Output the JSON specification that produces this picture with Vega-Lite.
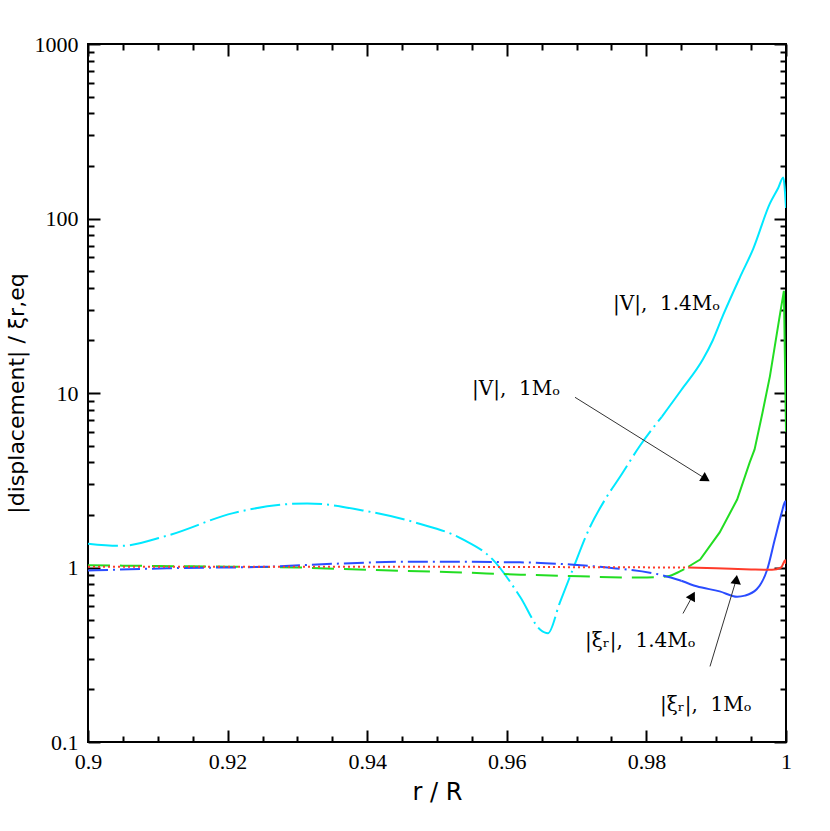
{
  "$schema": "https://vega.github.io/schema/vega-lite/v6.json",
  "autosize": {"type": "none"},
  "padding": {"left": 88, "top": 44, "right": 44, "bottom": 89},
  "width": 698,
  "height": 698,
  "datasets": {
    "curves": [
      {"s": "cyan_dd", "r": 0.9, "v": 1.37},
      {"s": "cyan_dd", "r": 0.9046, "v": 1.33},
      {"s": "cyan_dd", "r": 0.9113, "v": 1.52},
      {"s": "cyan_dd", "r": 0.9208, "v": 2.05},
      {"s": "cyan_dd", "r": 0.9314, "v": 2.33},
      {"s": "cyan_dd", "r": 0.94, "v": 2.1},
      {"s": "cyan_dd", "r": 0.9471, "v": 1.8},
      {"s": "cyan_dd", "r": 0.9537, "v": 1.45},
      {"s": "cyan_dd", "r": 0.9579, "v": 1.12},
      {"s": "cyan_dd", "r": 0.9619, "v": 0.68},
      {"s": "cyan_dd", "r": 0.9648, "v": 0.44},
      {"s": "cyan_dd", "r": 0.9659, "v": 0.42},
      {"s": "cyan_dd", "r": 0.9676, "v": 0.63},
      {"s": "cyan_dd", "r": 0.9693, "v": 0.94},
      {"s": "cyan_dd", "r": 0.9719, "v": 1.7},
      {"s": "cyan_dd", "r": 0.9741, "v": 2.46},
      {"s": "cyan_dd", "r": 0.9762, "v": 3.3},
      {"s": "cyan_dd", "r": 0.9791, "v": 5.0},
      {"s": "cyan_dd", "r": 0.9822, "v": 7.3},
      {"s": "cyan_s", "r": 0.9822, "v": 7.3},
      {"s": "cyan_s", "r": 0.985, "v": 10.4},
      {"s": "cyan_s", "r": 0.9881, "v": 15.6},
      {"s": "cyan_s", "r": 0.9895, "v": 20},
      {"s": "cyan_s", "r": 0.991, "v": 28},
      {"s": "cyan_s", "r": 0.9934, "v": 46},
      {"s": "cyan_s", "r": 0.9953, "v": 67},
      {"s": "cyan_s", "r": 0.9977, "v": 122},
      {"s": "cyan_s", "r": 0.9989, "v": 150},
      {"s": "cyan_s", "r": 0.9996, "v": 172},
      {"s": "cyan_s", "r": 1.0, "v": 115},
      {"s": "green_d", "r": 0.9, "v": 1.03},
      {"s": "green_d", "r": 0.91, "v": 1.02},
      {"s": "green_d", "r": 0.92, "v": 1.01},
      {"s": "green_d", "r": 0.93, "v": 1.0},
      {"s": "green_d", "r": 0.94, "v": 0.97},
      {"s": "green_d", "r": 0.9523, "v": 0.94},
      {"s": "green_d", "r": 0.962, "v": 0.91},
      {"s": "green_d", "r": 0.9705, "v": 0.89},
      {"s": "green_d", "r": 0.9791, "v": 0.875},
      {"s": "green_d", "r": 0.983, "v": 0.89},
      {"s": "green_d", "r": 0.9848, "v": 0.95},
      {"s": "green_d", "r": 0.986, "v": 1.01},
      {"s": "green_s", "r": 0.986, "v": 1.01},
      {"s": "green_s", "r": 0.9877, "v": 1.11},
      {"s": "green_s", "r": 0.9905, "v": 1.59},
      {"s": "green_s", "r": 0.993, "v": 2.45},
      {"s": "green_s", "r": 0.9948, "v": 4.0},
      {"s": "green_s", "r": 0.9955, "v": 4.75},
      {"s": "green_s", "r": 0.9966, "v": 7.6},
      {"s": "green_s", "r": 0.9977, "v": 12.5},
      {"s": "green_s", "r": 0.9991, "v": 27.7},
      {"s": "green_s", "r": 0.9997, "v": 38.5},
      {"s": "green_s", "r": 1.0, "v": 6},
      {"s": "blue_dd", "r": 0.9, "v": 0.96},
      {"s": "blue_dd", "r": 0.9113, "v": 0.99},
      {"s": "blue_dd", "r": 0.9256, "v": 1.01},
      {"s": "blue_dd", "r": 0.9351, "v": 1.05},
      {"s": "blue_dd", "r": 0.9471, "v": 1.08},
      {"s": "blue_dd", "r": 0.9619, "v": 1.07},
      {"s": "blue_dd", "r": 0.9691, "v": 1.04},
      {"s": "blue_dd", "r": 0.9744, "v": 1.0},
      {"s": "blue_dd", "r": 0.9824, "v": 0.9},
      {"s": "blue_dd", "r": 0.985, "v": 0.84},
      {"s": "blue_s", "r": 0.985, "v": 0.84},
      {"s": "blue_s", "r": 0.9872, "v": 0.78},
      {"s": "blue_s", "r": 0.9905, "v": 0.73},
      {"s": "blue_s", "r": 0.993, "v": 0.68},
      {"s": "blue_s", "r": 0.9941, "v": 0.69},
      {"s": "blue_s", "r": 0.9958, "v": 0.75},
      {"s": "blue_s", "r": 0.9973, "v": 0.97},
      {"s": "blue_s", "r": 0.9984, "v": 1.45},
      {"s": "blue_s", "r": 0.9994, "v": 2.07},
      {"s": "blue_s", "r": 0.9999, "v": 2.4},
      {"s": "blue_s", "r": 1.0, "v": 2.1},
      {"s": "red_d", "r": 0.9, "v": 1.01},
      {"s": "red_d", "r": 0.95, "v": 1.01},
      {"s": "red_d", "r": 0.986, "v": 1.0},
      {"s": "red_s", "r": 0.986, "v": 1.0},
      {"s": "red_s", "r": 0.99, "v": 0.99},
      {"s": "red_s", "r": 0.995, "v": 0.975},
      {"s": "red_s", "r": 0.998, "v": 0.97},
      {"s": "red_s", "r": 0.9993, "v": 1.0},
      {"s": "red_s", "r": 0.9999, "v": 1.1},
      {"s": "red_s", "r": 1.0, "v": 1.05}
    ],
    "arrows": [
      {"r": 0.96977, "v": 9.45, "r2": 0.98851, "v2": 3.22, "angle": 122},
      {"r": 0.98524, "v": 0.545, "r2": 0.98662, "v2": 0.688, "angle": 29},
      {"r": 0.98911, "v": 0.271, "r2": 0.99288, "v2": 0.854, "angle": 8}
    ],
    "labels": [
      {"t": "|V|,\u00a0\u00a01.4Mₒ", "r": 0.97522, "v": 30},
      {"t": "|V|,\u00a0\u00a01Mₒ", "r": 0.95501, "v": 9.8},
      {"t": "|ξᵣ|,\u00a0\u00a01.4Mₒ", "r": 0.9712, "v": 0.352},
      {"t": "|ξᵣ|,\u00a0\u00a01Mₒ", "r": 0.98195, "v": 0.1496}
    ]
  },
  "resolve": {"axis": {"x": "independent", "y": "independent"}},
  "layer": [
    {
      "data": {"name": "curves"},
      "transform": [{"filter": "datum.s == 'cyan_dd'"}],
      "mark": {"type": "line", "color": "#00e8ff", "strokeWidth": 2, "strokeDash": [30, 5, 2, 5], "interpolate": "monotone", "clip": true},
      "encoding": {
        "x": {"field": "r", "type": "quantitative", "scale": {"domain": [0.9, 1.0], "nice": false, "zero": false},
          "axis": {"orient": "bottom", "values": [0.9, 0.92, 0.94, 0.96, 0.98, 1.0], "ticks": false, "labelPadding": 9, "title": "r / R", "labelExpr": "format(datum.value, '~g')"}},
        "y": {"field": "v", "type": "quantitative", "scale": {"type": "log", "domain": [0.1, 1000], "nice": false},
          "axis": {"orient": "left", "values": [0.1, 1, 10, 100, 1000], "ticks": false, "labelPadding": 10, "title": "|displacement| / ξr,eq", "labelExpr": "format(datum.value, '~g')"}}
      }
    },
    {
      "data": {"name": "curves"},
      "transform": [{"filter": "datum.s == 'cyan_s'"}],
      "mark": {"type": "line", "color": "#00e8ff", "strokeWidth": 2, "interpolate": "monotone", "clip": true},
      "encoding": {
        "x": {"field": "r", "type": "quantitative",
          "axis": {"orient": "bottom", "offset": -12, "values": [0.9, 0.92, 0.94, 0.96, 0.98, 1.0], "tickSize": 12, "labels": false, "title": null}},
        "y": {"field": "v", "type": "quantitative",
          "axis": {"orient": "left", "offset": -12, "values": [0.1, 1, 10, 100, 1000], "tickSize": 12, "labels": false, "title": null}}
      }
    },
    {
      "data": {"name": "curves"},
      "transform": [{"filter": "datum.s == 'green_d'"}],
      "mark": {"type": "line", "color": "#22dd22", "strokeWidth": 2, "strokeDash": [22, 10], "interpolate": "monotone", "clip": true},
      "encoding": {
        "x": {"field": "r", "type": "quantitative",
          "axis": {"orient": "bottom", "offset": -6, "values": [0.905, 0.91, 0.915, 0.925, 0.93, 0.935, 0.945, 0.95, 0.955, 0.965, 0.97, 0.975, 0.985, 0.99, 0.995], "tickSize": 6, "labels": false, "title": null}},
        "y": {"field": "v", "type": "quantitative",
          "axis": {"orient": "left", "offset": -6, "values": [0.2, 0.3, 0.4, 0.5, 0.6, 0.7, 0.8, 0.9, 2, 3, 4, 5, 6, 7, 8, 9, 20, 30, 40, 50, 60, 70, 80, 90, 200, 300, 400, 500, 600, 700, 800, 900], "tickSize": 6, "labels": false, "title": null}}
      }
    },
    {
      "data": {"name": "curves"},
      "transform": [{"filter": "datum.s == 'green_s'"}],
      "mark": {"type": "line", "color": "#22dd22", "strokeWidth": 2, "clip": true},
      "encoding": {
        "x": {"field": "r", "type": "quantitative",
          "axis": {"orient": "top", "offset": -12, "values": [0.9, 0.92, 0.94, 0.96, 0.98, 1.0], "tickSize": 12, "labels": false, "title": null}},
        "y": {"field": "v", "type": "quantitative",
          "axis": {"orient": "right", "offset": -12, "values": [0.1, 1, 10, 100, 1000], "tickSize": 12, "labels": false, "title": null}}
      }
    },
    {
      "data": {"name": "curves"},
      "transform": [{"filter": "datum.s == 'blue_dd'"}],
      "mark": {"type": "line", "color": "#2a4cff", "strokeWidth": 2, "strokeDash": [20, 5, 2, 5], "interpolate": "monotone", "clip": true},
      "encoding": {
        "x": {"field": "r", "type": "quantitative",
          "axis": {"orient": "top", "offset": -6, "values": [0.905, 0.91, 0.915, 0.925, 0.93, 0.935, 0.945, 0.95, 0.955, 0.965, 0.97, 0.975, 0.985, 0.99, 0.995], "tickSize": 6, "labels": false, "title": null}},
        "y": {"field": "v", "type": "quantitative",
          "axis": {"orient": "right", "offset": -6, "values": [0.2, 0.3, 0.4, 0.5, 0.6, 0.7, 0.8, 0.9, 2, 3, 4, 5, 6, 7, 8, 9, 20, 30, 40, 50, 60, 70, 80, 90, 200, 300, 400, 500, 600, 700, 800, 900], "tickSize": 6, "labels": false, "title": null}}
      }
    },
    {
      "data": {"name": "curves"},
      "transform": [{"filter": "datum.s == 'blue_s'"}],
      "mark": {"type": "line", "color": "#2a4cff", "strokeWidth": 2, "interpolate": "monotone", "clip": true},
      "encoding": {
        "x": {"field": "r", "type": "quantitative", "axis": null},
        "y": {"field": "v", "type": "quantitative", "axis": null}
      }
    },
    {
      "data": {"name": "curves"},
      "transform": [{"filter": "datum.s == 'red_d'"}],
      "mark": {"type": "line", "color": "#ff3b2a", "strokeWidth": 2, "strokeDash": [2, 3], "clip": true},
      "encoding": {
        "x": {"field": "r", "type": "quantitative", "axis": null},
        "y": {"field": "v", "type": "quantitative", "axis": null}
      }
    },
    {
      "data": {"name": "curves"},
      "transform": [{"filter": "datum.s == 'red_s'"}],
      "mark": {"type": "line", "color": "#ff3b2a", "strokeWidth": 2, "interpolate": "monotone", "clip": true},
      "encoding": {
        "x": {"field": "r", "type": "quantitative", "axis": null},
        "y": {"field": "v", "type": "quantitative", "axis": null}
      }
    },
    {
      "data": {"name": "arrows"},
      "mark": {"type": "rule", "color": "#333333", "strokeWidth": 1},
      "encoding": {
        "x": {"field": "r", "type": "quantitative", "axis": null},
        "y": {"field": "v", "type": "quantitative", "axis": null},
        "x2": {"field": "r2"},
        "y2": {"field": "v2"}
      }
    },
    {
      "data": {"name": "arrows"},
      "mark": {"type": "point", "shape": "triangle-up", "filled": true, "color": "black", "opacity": 1, "size": 110},
      "encoding": {
        "x": {"field": "r2", "type": "quantitative", "axis": null},
        "y": {"field": "v2", "type": "quantitative", "axis": null},
        "angle": {"field": "angle", "type": "quantitative", "scale": null}
      }
    },
    {
      "data": {"name": "labels"},
      "mark": {"type": "text", "align": "left", "baseline": "alphabetic", "font": "DejaVu Serif", "fontSize": 20, "color": "black"},
      "encoding": {
        "x": {"field": "r", "type": "quantitative", "axis": null},
        "y": {"field": "v", "type": "quantitative", "axis": null},
        "text": {"field": "t"}
      }
    }
  ],
  "config": {
    "view": {"stroke": "black", "strokeWidth": 2},
    "axis": {
      "domain": false,
      "grid": false,
      "tickColor": "black",
      "tickWidth": 2,
      "labelFont": "Liberation Serif",
      "labelFontSize": 22,
      "labelColor": "black",
      "titleFont": "DejaVu Sans",
      "titleFontSize": 22,
      "titleFontWeight": "normal",
      "titleColor": "black"
    },
    "axisX": {"labelFlush": false, "titlePadding": 8, "titleFontSize": 24},
    "axisY": {"titlePadding": 6}
  }
}
